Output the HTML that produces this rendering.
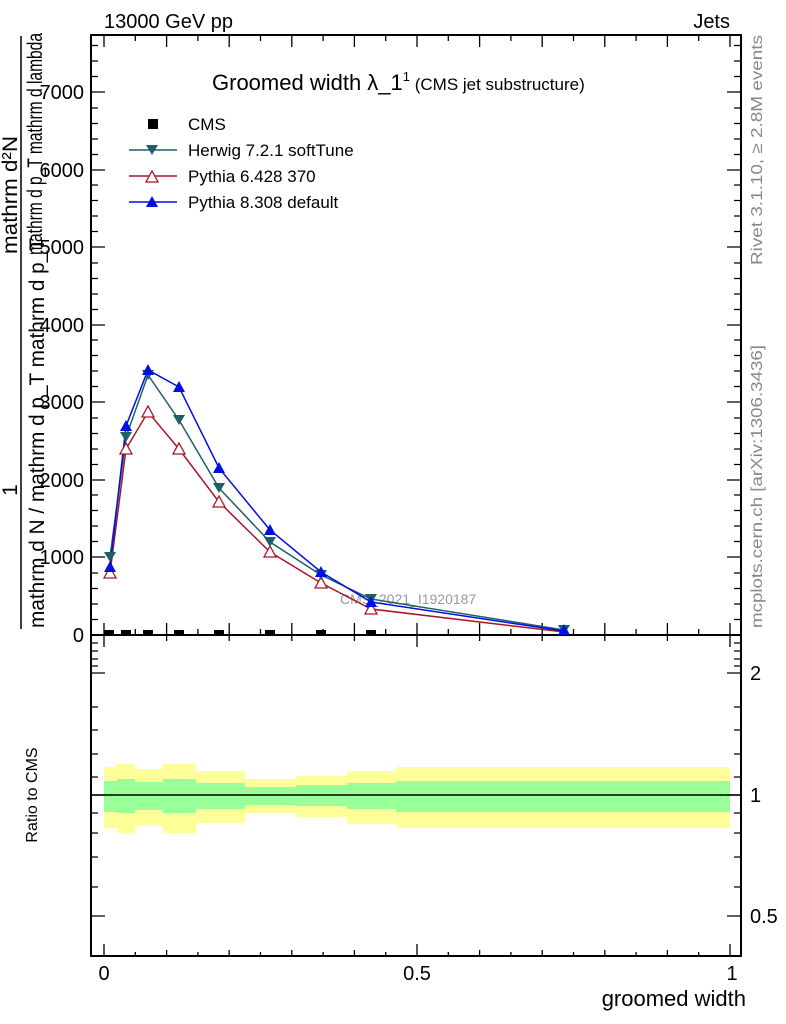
<!DOCTYPE html>
<html><head><meta charset="utf-8"><style>
body{margin:0;background:#fff}
svg{display:block;font-family:"Liberation Sans",sans-serif}
</style></head><body>
<svg width="786" height="1024" viewBox="0 0 786 1024" xmlns="http://www.w3.org/2000/svg">
<rect width="786" height="1024" fill="#fff"/>
<text x="104" y="28" font-size="20">13000 GeV pp</text>
<text x="730" y="28" font-size="20" text-anchor="end">Jets</text>
<!-- ratio bands -->
<g fill="#ffff99">
<rect x="104" y="767" width="13" height="61"/>
<rect x="117" y="764" width="18" height="69"/>
<rect x="135" y="769" width="28" height="57"/>
<rect x="163" y="764" width="33" height="69"/>
<rect x="196" y="771" width="49" height="52"/>
<rect x="245" y="779" width="51" height="34"/>
<rect x="296" y="776" width="51" height="41"/>
<rect x="347" y="771" width="49" height="53"/>
<rect x="396" y="767" width="334" height="61"/>
</g>
<g fill="#99ff99">
<rect x="104" y="781" width="13" height="31"/>
<rect x="117" y="779" width="18" height="34"/>
<rect x="135" y="782" width="28" height="28"/>
<rect x="163" y="779" width="33" height="34"/>
<rect x="196" y="783" width="49" height="26"/>
<rect x="245" y="787" width="51" height="18"/>
<rect x="296" y="785" width="51" height="21"/>
<rect x="347" y="783" width="49" height="26"/>
<rect x="396" y="781" width="334" height="31"/>
</g>
<line x1="91" y1="795" x2="741" y2="795" stroke="#000" stroke-width="1.5"/>
<!-- frames -->
<rect x="91" y="35" width="650" height="600" fill="none" stroke="#000" stroke-width="2"/>
<rect x="91" y="635" width="650" height="321" fill="none" stroke="#000" stroke-width="2"/>
<g stroke="#000" stroke-width="1.3">
<path d="M91 635h14M91 557h14M91 480h14M91 402h14M91 325h14M91 247h14M91 170h14M91 92h14M741 635h-14M741 557h-14M741 480h-14M741 402h-14M741 325h-14M741 247h-14M741 170h-14M741 92h-14"/>
<path d="M91 619.5h7M91 604h7M91 588.5h7M91 573h7M91 541.5h7M91 526h7M91 510.5h7M91 495h7M91 464.5h7M91 449h7M91 433.5h7M91 418h7M91 386.5h7M91 371h7M91 355.5h7M91 340h7M91 309.5h7M91 294h7M91 278.5h7M91 263h7M91 231.5h7M91 216h7M91 200.5h7M91 185h7M91 154.5h7M91 139h7M91 123.5h7M91 108h7M91 76.5h7M91 61h7M91 45.5h7
M741 619.5h-7M741 604h-7M741 588.5h-7M741 573h-7M741 541.5h-7M741 526h-7M741 510.5h-7M741 495h-7M741 464.5h-7M741 449h-7M741 433.5h-7M741 418h-7M741 386.5h-7M741 371h-7M741 355.5h-7M741 340h-7M741 309.5h-7M741 294h-7M741 278.5h-7M741 263h-7M741 231.5h-7M741 216h-7M741 200.5h-7M741 185h-7M741 154.5h-7M741 139h-7M741 123.5h-7M741 108h-7M741 76.5h-7M741 61h-7M741 45.5h-7"/>
<path d="M104 635v-12M166.6 635v-12M229.2 635v-12M291.8 635v-12M354.4 635v-12M417 635v-12M479.6 635v-12M542.2 635v-12M604.8 635v-12M667.4 635v-12M730 635v-12
M104 35v12M166.6 35v12M229.2 35v12M291.8 35v12M354.4 35v12M417 35v12M479.6 35v12M542.2 35v12M604.8 35v12M667.4 35v12M730 35v12
M135.3 635v-6M197.9 635v-6M260.5 635v-6M323.1 635v-6M385.7 635v-6M448.3 635v-6M510.9 635v-6M573.5 635v-6M636.1 635v-6M698.7 635v-6
M135.3 35v6M197.9 35v6M260.5 35v6M323.1 35v6M385.7 35v6M448.3 35v6M510.9 35v6M573.5 35v6M636.1 35v6M698.7 35v6"/>
<path d="M104 956v-12M166.6 956v-6M229.2 956v-6M291.8 956v-6M354.4 956v-6M417 956v-12M479.6 956v-6M542.2 956v-6M604.8 956v-6M667.4 956v-6M730 956v-12
M104 635v12M166.6 635v6M229.2 635v6M291.8 635v6M354.4 635v6M417 635v12M479.6 635v6M542.2 635v6M604.8 635v6M667.4 635v6M730 635v12
M135.3 956v-4M197.9 956v-4M260.5 956v-4M323.1 956v-4M385.7 956v-4M448.3 956v-4M510.9 956v-4M573.5 956v-4M636.1 956v-4M698.7 956v-4"/>
<path d="M91 673h14M91 795h14M91 916h14M741 673h-14M741 795h-14M741 916h-14
M91 643h7M91 651h7M91 659h7M91 666h7M91 707h7M91 730h7M91 754h7M91 777h7M91 813h7M91 833h7M91 857h7M91 887h7
M741 643h-7M741 651h-7M741 659h-7M741 666h-7M741 707h-7M741 730h-7M741 754h-7M741 777h-7M741 813h-7M741 833h-7M741 857h-7M741 887h-7"/>
</g>
<g font-size="20" text-anchor="end">
<text x="84" y="642">0</text>
<text x="84" y="564">1000</text>
<text x="84" y="487">2000</text>
<text x="84" y="409">3000</text>
<text x="84" y="332">4000</text>
<text x="84" y="254">5000</text>
<text x="84" y="177">6000</text>
<text x="84" y="99">7000</text>
</g>
<g font-size="20">
<text x="750" y="680">2</text>
<text x="750" y="802">1</text>
<text x="750" y="923">0.5</text>
</g>
<g font-size="20" text-anchor="middle">
<text x="104" y="980">0</text>
<text x="417" y="980">0.5</text>
<text x="732" y="980">1</text>
</g>
<text x="746" y="1006" font-size="22" text-anchor="end">groomed width</text>
<text transform="translate(37,795) rotate(-90)" font-size="16" text-anchor="middle">Ratio to CMS</text>
<!-- y axis title -->
<line x1="21" y1="36" x2="21" y2="629" stroke="#000" stroke-width="1.5"/>
<g font-size="21">
<text transform="translate(17,490) rotate(-90)" text-anchor="middle">1</text>
<text transform="translate(17,195) rotate(-90)" text-anchor="middle" textLength="118" lengthAdjust="spacingAndGlyphs">mathrm d²N</text>
<text transform="translate(42,255) rotate(-90)" textLength="222" lengthAdjust="spacingAndGlyphs">mathrm d p_T  mathrm d lambda</text>
<text transform="translate(44,628) rotate(-90)" textLength="390" lengthAdjust="spacingAndGlyphs">mathrm d N / mathrm d p_T mathrm d p_T</text>
</g>
<text transform="translate(762,265) rotate(-90)" font-size="16" fill="#888" textLength="230" lengthAdjust="spacingAndGlyphs">Rivet 3.1.10, ≥ 2.8M events</text>
<text transform="translate(762,628) rotate(-90)" font-size="16" fill="#888" textLength="283" lengthAdjust="spacingAndGlyphs">mcplots.cern.ch [arXiv:1306.3436]</text>
<text x="212" y="90" font-size="22">Groomed width λ_1<tspan font-size="13" dy="-9">1</tspan><tspan font-size="17" dy="9"> (CMS jet substructure)</tspan></text>
<text x="340" y="604" font-size="14" fill="#999">CMS_2021_I1920187</text>
<!-- legend -->
<rect x="148" y="119" width="10" height="10" fill="#000"/>
<text x="188" y="130" font-size="17">CMS</text>
<line x1="129" y1="150" x2="177" y2="150" stroke="#1f5f68" stroke-width="1.5"/>
<path d="M146 145h12l-6 10z" fill="#1f5f68"/>
<text x="188" y="156" font-size="17">Herwig 7.2.1 softTune</text>
<line x1="129" y1="176" x2="177" y2="176" stroke="#a8162a" stroke-width="1.5"/>
<path d="M146 182h12l-6-11z" fill="#fff" stroke="#a8162a" stroke-width="1.3"/>
<text x="188" y="182" font-size="17">Pythia 6.428 370</text>
<line x1="129" y1="202" x2="177" y2="202" stroke="#0010e0" stroke-width="1.5"/>
<path d="M146 207h12l-6-11z" fill="#0010e0"/>
<text x="188" y="208" font-size="17">Pythia 8.308 default</text>
<!-- series -->
<polyline fill="none" stroke="#a8162a" stroke-width="1.5" points="110,573 126,449 148,412 179,449 219,502 270,552 321,583 371,609 564,632"/>
<polyline fill="none" stroke="#1f5f68" stroke-width="1.5" points="110,557 126,437 148,375 179,420 219,488 270,542 321,575 371,599 564,630"/>
<polyline fill="none" stroke="#0010e0" stroke-width="1.5" points="110,567 126,426 148,370 179,387 219,468 270,530 321,572 371,602 564,631"/>
<g fill="#fff" stroke="#a8162a" stroke-width="1.3">
<path d="M104 578h12l-6-11zM120 454h12l-6-11zM142 417h12l-6-11zM173 454h12l-6-11zM213 507h12l-6-11zM264 557h12l-6-11zM315 588h12l-6-11zM365 614h12l-6-11z"/>
</g>
<g fill="#1f5f68">
<path d="M104 552h12l-6 10zM120 432h12l-6 10zM142 370h12l-6 10zM173 415h12l-6 10zM213 483h12l-6 10zM264 537h12l-6 10zM315 570h12l-6 10zM365 594h12l-6 10zM558 625h12l-6 10z"/>
</g>
<g fill="#0010e0">
<path d="M104 572h12l-6-11zM120 431h12l-6-11zM142 375h12l-6-11zM173 392h12l-6-11zM213 473h12l-6-11zM264 535h12l-6-11zM315 577h12l-6-11zM365 607h12l-6-11zM558 635h12l-6-11z"/>
</g>
<g fill="#000">
<rect x="104" y="630" width="10" height="6"/><rect x="121" y="630" width="10" height="6"/><rect x="143" y="630" width="10" height="6"/><rect x="174" y="630" width="10" height="6"/><rect x="214" y="630" width="10" height="6"/><rect x="265" y="630" width="10" height="6"/><rect x="316" y="630" width="10" height="6"/><rect x="366" y="630" width="10" height="6"/>
</g>
</svg>
</body></html>
